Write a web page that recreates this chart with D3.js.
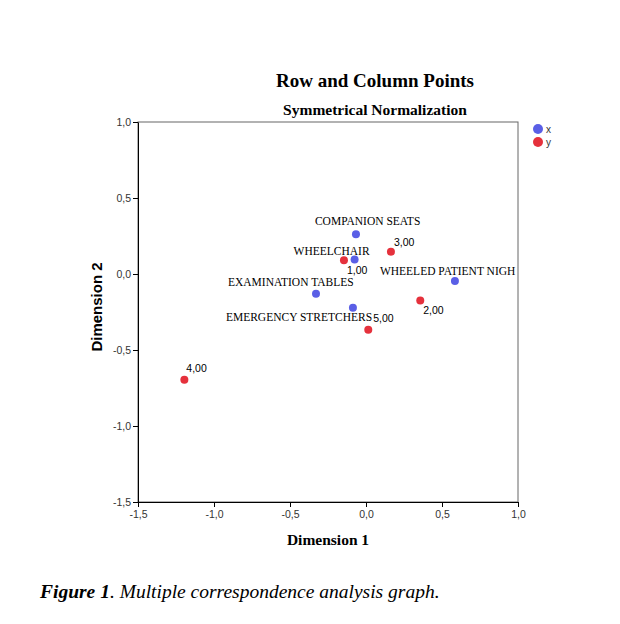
<!DOCTYPE html>
<html>
<head>
<meta charset="utf-8">
<script src="https://cdn.jsdelivr.net/npm/d3@7"></script>
<style>
  body { margin: 0; background: #fff; }
</style>
</head>
<body>
<svg id="chart"></svg>
<script>
// row points (x) and column points (y)
const rowLabels = ['COMPANION SEATS', 'WHEELCHAIR', 'WHEELED PATIENT NIGH', 'EXAMINATION TABLES', 'EMERGENCY STRETCHERS'];
const rowDim1 = [-0.066, -0.075, 0.585, -0.329, -0.086];
const rowDim2 = [0.262, 0.095, -0.046, -0.130, -0.222];

const colLabels = ['1,00', '2,00', '3,00', '4,00', '5,00'];
const colDim1 = [-0.145, 0.357, 0.164, -1.195, 0.015];
const colDim2 = [0.090, -0.175, 0.147, -0.695, -0.366];

const ticks = [-1.5, -1.0, -0.5, 0.0, 0.5, 1.0];

// label placement relative to the point (px)
const rowLabelPos = [[-41, -9], [-61, -5], [-75, -6], [-88, -8], [-127, 13]];
const colLabelPos = [[3, 14], [3, 13], [3, -6], [2, -8], [5, -8]];

const width = 620, height = 624;
const x0 = 138, x1 = 518, y0 = 122, y1 = 502;

const svg = d3.select('#chart').attr('width', width).attr('height', height);

const x = d3.scaleLinear().domain([-1.5, 1.0]).range([x0, x1]);
const y = d3.scaleLinear().domain([-1.5, 1.0]).range([y1, y0]);
const fmt = d => d3.format('.1f')(d).replace('.', ',').replace('−', '-');

// title
svg.append('text').attr('x', 375).attr('y', 87).attr('text-anchor', 'middle')
  .style('font-family', 'Liberation Serif, serif').style('font-weight', 'bold').style('font-size', '19px')
  .text('Row and Column Points');
svg.append('text').attr('x', 375).attr('y', 115).attr('text-anchor', 'middle')
  .style('font-family', 'Liberation Serif, serif').style('font-weight', 'bold').style('font-size', '15.5px')
  .text('Symmetrical Normalization');

// frame
svg.append('rect').attr('x', x0).attr('y', y0).attr('width', x1 - x0).attr('height', y1 - y0)
  .attr('fill', 'none').attr('stroke', '#666').attr('stroke-width', 1);

// axes
const xAxis = svg.append('g').attr('transform', `translate(0,${y1})`)
  .call(d3.axisBottom(x).tickValues(ticks).tickFormat(fmt).tickSize(5).tickSizeOuter(0));
const yAxis = svg.append('g').attr('transform', `translate(${x0},0)`)
  .call(d3.axisLeft(y).tickValues(ticks).tickFormat(fmt).tickSize(5).tickSizeOuter(0));
[xAxis, yAxis].forEach(g => {
  g.select('.domain').attr('stroke', '#000');
  g.selectAll('.tick line').attr('stroke', '#000');
  g.selectAll('.tick text').style('font-family', 'Liberation Sans, Arial, sans-serif')
    .style('font-size', '10.5px').attr('fill', '#333');
});
xAxis.selectAll('.tick text').attr('y', 9);
yAxis.selectAll('.tick text').attr('x', -7);

// axis titles
svg.append('text').attr('x', 328).attr('y', 545).attr('text-anchor', 'middle')
  .style('font-family', 'Liberation Serif, serif').style('font-weight', 'bold').style('font-size', '15.5px')
  .text('Dimension 1');
svg.append('text').attr('transform', 'translate(102,307) rotate(-90)').attr('text-anchor', 'middle')
  .style('font-family', 'Liberation Sans, Arial, sans-serif').style('font-weight', 'bold').style('font-size', '15px')
  .text('Dimension 2');

const blue = '#5a5fe6', red = '#e5313c';

const plot = svg.append('g');
svg.append('clipPath').attr('id', 'clip').append('rect')
  .attr('x', x0).attr('y', y0).attr('width', x1 - x0).attr('height', y1 - y0);

const rows = rowLabels.map((label, i) => ({ label, d1: rowDim1[i], d2: rowDim2[i], pos: rowLabelPos[i] }));
const cols = colLabels.map((label, i) => ({ label, d1: colDim1[i], d2: colDim2[i], pos: colLabelPos[i] }));

plot.selectAll('.rowpt').data(rows).enter().append('circle')
  .attr('cx', d => x(d.d1)).attr('cy', d => y(d.d2)).attr('r', 4).attr('fill', blue);
plot.selectAll('.colpt').data(cols).enter().append('circle')
  .attr('cx', d => x(d.d1)).attr('cy', d => y(d.d2)).attr('r', 4).attr('fill', red);

plot.append('g').attr('clip-path', 'url(#clip)').selectAll('text').data(rows).enter().append('text')
  .attr('x', d => x(d.d1) + d.pos[0]).attr('y', d => y(d.d2) + d.pos[1])
  .style('font-family', 'Liberation Serif, serif').style('font-size', '11.5px')
  .text(d => d.label);
plot.append('g').selectAll('text').data(cols).enter().append('text')
  .attr('x', d => x(d.d1) + d.pos[0]).attr('y', d => y(d.d2) + d.pos[1])
  .style('font-family', 'Liberation Sans, Arial, sans-serif').style('font-size', '10.5px')
  .text(d => d.label);

// legend
const legend = svg.append('g');
[['x', blue], ['y', red]].forEach(([name, c], i) => {
  legend.append('circle').attr('cx', 538).attr('cy', 129 + i * 13).attr('r', 5).attr('fill', c);
  legend.append('text').attr('x', 546).attr('y', 133 + i * 13)
    .style('font-family', 'Liberation Sans, Arial, sans-serif').style('font-size', '10px').attr('fill', '#333')
    .text(name);
});

// caption
const cap = svg.append('text').attr('x', 40).attr('y', 598)
  .style('font-family', 'Liberation Serif, serif').style('font-size', '19.5px').style('font-style', 'italic');
cap.append('tspan').style('font-weight', 'bold').text('Figure 1');
cap.append('tspan').text('. Multiple correspondence analysis graph.');
</script>
</body>
</html>
